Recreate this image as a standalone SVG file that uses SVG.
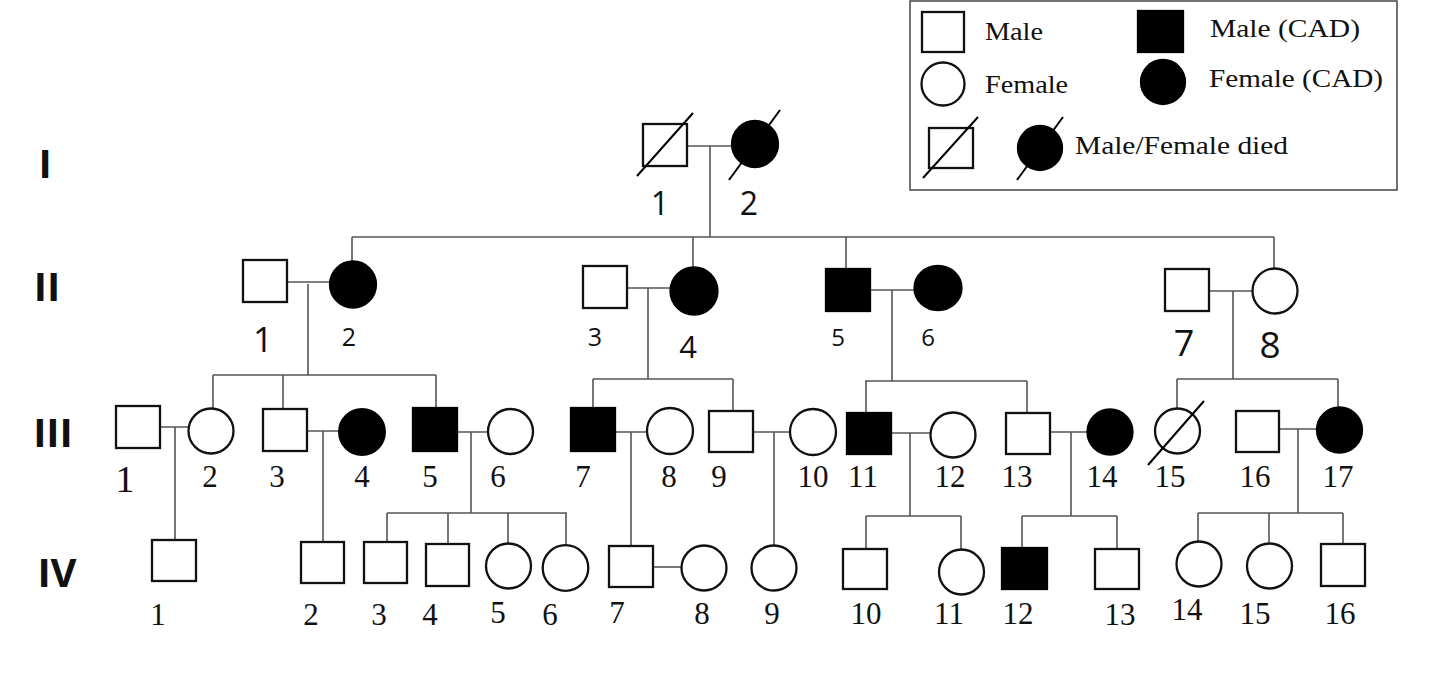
<svg xmlns="http://www.w3.org/2000/svg" width="1449" height="678" viewBox="0 0 1449 678">
<style>
.bg{fill:#fff}
.sym{fill:#fff;stroke:#111;stroke-width:2.3}
.aff{fill:#000;stroke:#000;stroke-width:2.3}
.ln{stroke:#555;stroke-width:1.6;fill:none}
.sl{stroke:#000;stroke-width:2}
.ns{font-family:"Open Sans","Liberation Sans",sans-serif;text-anchor:middle;fill:#111}
.nr{font-family:"Liberation Serif","DejaVu Serif",serif;text-anchor:middle;fill:#111;font-size:31px}
.gen{font-family:"Open Sans","Liberation Sans",sans-serif;font-weight:bold;font-size:40px;text-anchor:middle;fill:#111}
.lg{font-family:"Liberation Serif","Times New Roman",serif;font-size:25px;fill:#111}
</style>
<rect class="bg" x="0" y="0" width="1449" height="678"/>

<g id="legend">
<rect x="910" y="1" width="487" height="189" fill="none" stroke="#444" stroke-width="1.5"/>
<rect class="sym" x="922" y="12" width="42" height="40"/>
<text class="lg" x="985" y="40" textLength="58" lengthAdjust="spacingAndGlyphs">Male</text>
<rect class="aff" x="1138" y="11" width="45" height="41"/>
<text class="lg" x="1210" y="37" textLength="150" lengthAdjust="spacingAndGlyphs">Male (CAD)</text>
<circle class="sym" cx="943" cy="84" r="21.5"/>
<text class="lg" x="985" y="93" textLength="83" lengthAdjust="spacingAndGlyphs">Female</text>
<circle class="aff" cx="1163" cy="82" r="22"/>
<text class="lg" x="1209" y="87" textLength="174" lengthAdjust="spacingAndGlyphs">Female (CAD)</text>
<rect class="sym" x="929" y="128" width="44" height="40"/>
<line class="sl" x1="923" y1="178" x2="978" y2="117"/>
<circle class="aff" cx="1040" cy="148" r="22"/>
<line class="sl" x1="1017" y1="180" x2="1063" y2="117"/>
<text class="lg" x="1075" y="154" textLength="213" lengthAdjust="spacingAndGlyphs">Male/Female died</text>
</g>

<g id="generation-labels">
<text class="gen" x="45" y="178">I</text>
<text class="gen" x="47" y="301">II</text>
<text class="gen" x="53" y="447">III</text>
<text class="gen" x="57" y="587">IV</text>
</g>

<g id="connectors">
<path class="ln" d="M687 146H733 M710 146V237 M352 237H1274 M352 237V262 M693 237V267 M846 237V269 M1274 237V269"/>
<path class="ln" d="M287 282H330 M308 284V375 M213 375H436 M213 375V408 M283 375V409 M436 375V408"/>
<path class="ln" d="M627 288H670 M648 288V379 M593 379H733 M593 379V408 M733 379V411"/>
<path class="ln" d="M870 290H915 M892 290V381 M865 381H1027 M866 381V413 M1027 381V413"/>
<path class="ln" d="M1209 291H1252 M1233 291V379 M1177 379H1338 M1177 379V408 M1338 379V408"/>
<path class="ln" d="M160 427H189 M175 427V540"/>
<path class="ln" d="M307 431H339 M323 431V542"/>
<path class="ln" d="M457 432H488 M471 432V513 M387 513H567 M387 513V542 M448 513V544 M508 513V544 M566 513V545"/>
<path class="ln" d="M615 432H647 M631 432V546"/>
<path class="ln" d="M753 432H790 M774 432V546"/>
<path class="ln" d="M891 433H931 M910 433V516 M866 516H961 M866 516V549 M961 516V550"/>
<path class="ln" d="M1050 432H1088 M1071 432V516 M1022 516H1117 M1022 516V548 M1117 516V549"/>
<path class="ln" d="M1279 429H1317 M1298 429V513 M1198 513H1343 M1198 513V542 M1269 513V544 M1343 513V544"/>
<path class="ln" d="M653 567H681"/>
</g>

<g id="I-1"><rect class="sym" x="643" y="124" width="44" height="42"/><line class="sl" x1="637" y1="176" x2="693" y2="113"/><text class="ns" x="660" y="215" font-size="32">1</text></g>
<g id="I-2"><circle class="aff" cx="755" cy="144" r="23"/><line class="sl" x1="729" y1="180" x2="780" y2="110"/><text class="ns" x="749" y="215" font-size="32">2</text></g>

<g id="II-1"><rect class="sym" x="243" y="260" width="44" height="42"/><text class="ns" x="263" y="352" font-size="35">1</text></g>
<g id="II-2"><circle class="aff" cx="353" cy="284.5" r="23"/><text class="ns" x="349" y="346" font-size="25">2</text></g>
<g id="II-3"><rect class="sym" x="583" y="266" width="44" height="42"/><text class="ns" x="595" y="346" font-size="25">3</text></g>
<g id="II-4"><circle class="aff" cx="694" cy="291" r="23.5"/><text class="ns" x="688" y="358" font-size="31">4</text></g>
<g id="II-5"><rect class="aff" x="826" y="269" width="44" height="42"/><text class="ns" x="838" y="346" font-size="24">5</text></g>
<g id="II-6"><ellipse class="aff" cx="938" cy="288" rx="23.5" ry="22"/><text class="ns" x="928" y="346" font-size="24">6</text></g>
<g id="II-7"><rect class="sym" x="1165" y="269" width="44" height="42"/><text class="ns" x="1184" y="356" font-size="36">7</text></g>
<g id="II-8"><circle class="sym" cx="1275" cy="291" r="22.5"/><text class="ns" x="1270" y="358" font-size="37">8</text></g>

<g id="III-1"><rect class="sym" x="116" y="406" width="44" height="42"/><text class="nr" x="125" y="492" style="font-size:38px">1</text></g>
<g id="III-2"><circle class="sym" cx="211" cy="431" r="22.5"/><text class="nr" x="210" y="487">2</text></g>
<g id="III-3"><rect class="sym" x="263" y="409" width="44" height="42"/><text class="nr" x="277" y="487">3</text></g>
<g id="III-4"><circle class="aff" cx="362" cy="432" r="22.8"/><text class="nr" x="362" y="487">4</text></g>
<g id="III-5"><rect class="aff" x="413" y="408" width="44" height="43"/><text class="nr" x="430" y="487">5</text></g>
<g id="III-6"><circle class="sym" cx="510.5" cy="431.5" r="22.5"/><text class="nr" x="498" y="487">6</text></g>
<g id="III-7"><rect class="aff" x="571" y="408" width="44" height="43"/><text class="nr" x="583" y="487">7</text></g>
<g id="III-8"><circle class="sym" cx="670" cy="431" r="23"/><text class="nr" x="669" y="487">8</text></g>
<g id="III-9"><rect class="sym" x="709" y="411" width="44" height="41"/><text class="nr" x="719" y="487">9</text></g>
<g id="III-10"><circle class="sym" cx="813" cy="432" r="23"/><text class="nr" x="813" y="487">10</text></g>
<g id="III-11"><rect class="aff" x="847" y="413" width="44" height="41"/><text class="nr" x="863" y="487">11</text></g>
<g id="III-12"><circle class="sym" cx="953" cy="435" r="22.5"/><text class="nr" x="950" y="487">12</text></g>
<g id="III-13"><rect class="sym" x="1006" y="413" width="44" height="41"/><text class="nr" x="1017" y="487">13</text></g>
<g id="III-14"><circle class="aff" cx="1110" cy="432" r="22.5"/><text class="nr" x="1102" y="487">14</text></g>
<g id="III-15"><circle class="sym" cx="1177.5" cy="431" r="22.5"/><line class="sl" x1="1148" y1="465" x2="1204" y2="401"/><text class="nr" x="1170" y="487">15</text></g>
<g id="III-16"><rect class="sym" x="1236" y="411" width="43" height="41"/><text class="nr" x="1255" y="487">16</text></g>
<g id="III-17"><circle class="aff" cx="1339.5" cy="430" r="22.5"/><text class="nr" x="1338" y="487">17</text></g>

<g id="IV-1"><rect class="sym" x="152" y="540" width="44" height="41"/><text class="nr" x="158" y="625">1</text></g>
<g id="IV-2"><rect class="sym" x="301" y="542" width="43" height="41"/><text class="nr" x="311" y="625">2</text></g>
<g id="IV-3"><rect class="sym" x="364" y="542" width="43" height="41"/><text class="nr" x="379" y="625">3</text></g>
<g id="IV-4"><rect class="sym" x="426" y="544" width="43" height="42"/><text class="nr" x="430" y="625">4</text></g>
<g id="IV-5"><circle class="sym" cx="508.5" cy="566" r="22.5"/><text class="nr" x="498" y="623">5</text></g>
<g id="IV-6"><circle class="sym" cx="565.5" cy="568" r="22.8"/><text class="nr" x="550" y="625">6</text></g>
<g id="IV-7"><rect class="sym" x="609" y="546" width="44" height="41"/><text class="nr" x="617" y="623">7</text></g>
<g id="IV-8"><circle class="sym" cx="704" cy="568" r="22.5"/><text class="nr" x="702" y="624">8</text></g>
<g id="IV-9"><circle class="sym" cx="774" cy="568" r="22.5"/><text class="nr" x="772" y="624">9</text></g>
<g id="IV-10"><rect class="sym" x="843" y="549" width="44" height="40"/><text class="nr" x="866" y="624">10</text></g>
<g id="IV-11"><circle class="sym" cx="961.5" cy="572" r="22.5"/><text class="nr" x="949" y="624">11</text></g>
<g id="IV-12"><rect class="aff" x="1002" y="548" width="45" height="41"/><text class="nr" x="1018" y="624">12</text></g>
<g id="IV-13"><rect class="sym" x="1095" y="549" width="44" height="40"/><text class="nr" x="1120" y="625">13</text></g>
<g id="IV-14"><circle class="sym" cx="1199" cy="564" r="22.5"/><text class="nr" x="1187" y="620">14</text></g>
<g id="IV-15"><circle class="sym" cx="1269.5" cy="566" r="22.5"/><text class="nr" x="1255" y="624">15</text></g>
<g id="IV-16"><rect class="sym" x="1321" y="544" width="44" height="42"/><text class="nr" x="1340" y="624">16</text></g>
</svg>
